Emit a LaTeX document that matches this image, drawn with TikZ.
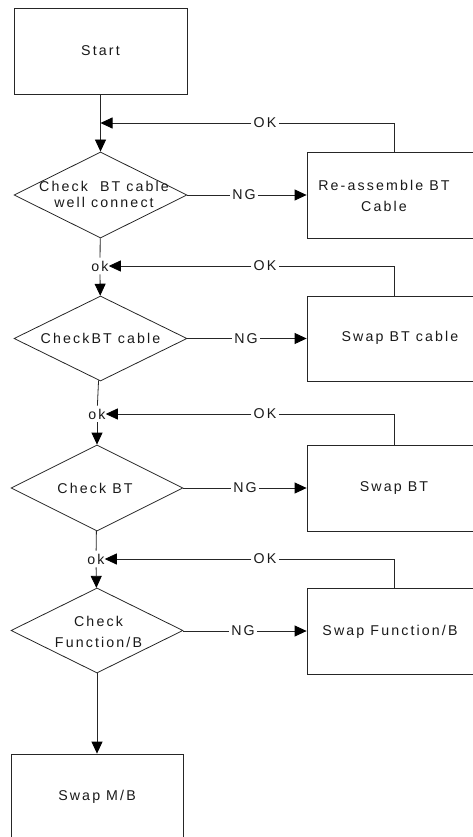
\documentclass[tikz,border=0pt]{standalone}
\usepackage{fontspec}
\setmainfont{Liberation Sans}[LetterSpace=15]
\usetikzlibrary{shapes.geometric,arrows.meta}

\begin{document}
\begin{tikzpicture}[x=1pt,y=-1pt,
  every node/.style={font=\fontsize{14.2}{15.5}\selectfont, text=black!90},
  ln/.style={draw=black!85, line width=0.8pt},
  box/.style={ln, rectangle, inner sep=0pt},
  dia/.style={ln, diamond, inner sep=0pt},
  arr/.style={ln, -{Triangle[length=12pt,width=11pt,fill=black,color=black]}},
  lbl/.style={inner sep=2pt},
  okl/.style={inner sep=3pt},
  ]
\useasboundingbox (0,0) rectangle (472,837);

% boxes
\node[box, minimum width=173pt, minimum height=86pt] (start) at (100.5,51) {Start};
\node[box, minimum width=166pt, minimum height=86pt] (b1) at (390,195) {};
\node[box, minimum width=166pt, minimum height=85pt] (b2) at (390,338.5) {};
\node[box, minimum width=166pt, minimum height=86pt] (b3) at (390,488) {};
\node[box, minimum width=166pt, minimum height=86pt] (b4) at (390,631) {};
\node[box, minimum width=172pt, minimum height=86pt] (mb) at (97,797) {Swap M/B};

% diamonds
\node[dia, minimum width=173pt, minimum height=86pt] (d1) at (100.5,195) {};
\node[dia, minimum width=173pt, minimum height=85pt] (d2) at (100.5,338.5) {};
\node[dia, minimum width=172pt, minimum height=86pt] (d3) at (97,488) {};
\node[dia, minimum width=172pt, minimum height=85pt] (d4) at (97,630.5) {};

% texts
\node[align=center] (t1) at (104,194.5) {Check~~BT cable\\well connect};
\node (t2) at (100.5,338) {CheckBT cable};
\node (t3) at (95,488) {Check BT};
\node[align=center] (t4) at (98.5,631.5) {Check\\[5.5pt]Function/B};
\node[align=center] (bt1) at (384,195.5) {Re-assemble BT\\[5.5pt]Cable};
\node (bt2) at (400,338) {Swap BT cable};
\node (bt3) at (394,488) {Swap BT};
\node (bt4) at (390,632) {Swap Function/B};

% ok labels
\node[okl] (ok1) at (100,266) {ok};
\node[okl] (ok2) at (97,414) {ok};
\node[okl] (ok3) at (96,559) {ok};

% OK labels
\node[lbl] (okA) at (265,123) {OK};
\node[lbl] (okB) at (265,266) {OK};
\node[lbl] (okC) at (265,414) {OK};
\node[lbl] (okD) at (265,559) {OK};

% NG labels
\node[lbl] (ng1) at (244,195) {NG};
\node[lbl] (ng2) at (246,338.5) {NG};
\node[lbl] (ng3) at (245,488) {NG};
\node[lbl] (ng4) at (243,631) {NG};

\coordinate (j1) at (100.5,123);

% main flow
\draw[arr] (start) -- (d1);
\draw[ln] (d1) -- (ok1);
\draw[arr] (ok1) -- (d2);
\draw[ln] (d2) -- (ok2);
\draw[arr] (ok2) -- (d3);
\draw[ln] (d3) -- (ok3);
\draw[arr] (ok3) -- (d4);
\draw[arr] (d4) -- (mb);

% NG branches
\draw[ln] (d1) -- (ng1);
\draw[arr] (ng1) -- (ng1 -| b1.west);
\draw[ln] (d2) -- (ng2);
\draw[arr] (ng2) -- (ng2 -| b2.west);
\draw[ln] (d3) -- (ng3);
\draw[arr] (ng3) -- (ng3 -| b3.west);
\draw[ln] (ng4 -| d4.east) -- (ng4);
\draw[arr] (ng4) -- (ng4 -| b4.west);

% OK loops
\draw[ln] ([xshift=4pt]b1.north) |- (okA);
\draw[arr] (okA) -- (j1);
\draw[ln] ([xshift=4pt]b2.north) |- (okB);
\draw[arr] (okB) -- ([xshift=-3pt]ok1.east);
\draw[ln] ([xshift=4pt]b3.north) |- (okC);
\draw[arr] (okC) -- ([xshift=-3pt]ok2.east);
\draw[ln] ([xshift=4pt]b4.north) |- (okD);
\draw[arr] (okD) -- ([xshift=-3pt]ok3.east);
\end{tikzpicture}
\end{document}
